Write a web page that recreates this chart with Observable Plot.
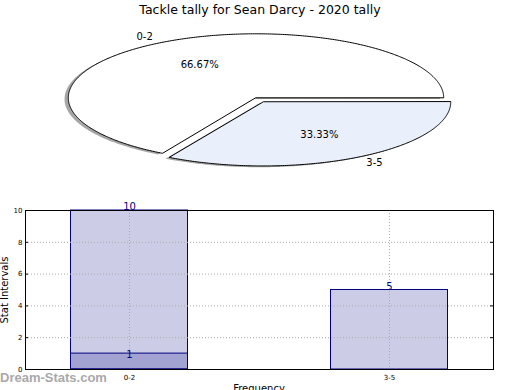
<!DOCTYPE html>
<html>
<head>
<meta charset="utf-8">
<script src="https://cdn.jsdelivr.net/npm/d3@7"></script>
<script src="https://cdn.jsdelivr.net/npm/@observablehq/plot@0.6"></script>
<style>
  html, body { margin: 0; padding: 0; background: #fff; overflow: hidden; }
  #wrap { position: relative; width: 520px; height: 390px; font-family: "DejaVu Sans", sans-serif; }
  #wrap > * { position: absolute; }
  .title { left: 0; width: 520px; top: 2px; text-align: center; font-size: 12.5px; line-height: 16px; color: #000; }
  .ylab { left: -36px; top: 284px; width: 82px; text-align: center; font-size: 10px; line-height: 12px; transform: rotate(-90deg); }
  .xlab { left: 0; width: 518px; top: 383px; text-align: center; font-size: 10px; line-height: 12px; }
  .wm { left: 0; top: 370px; font-family: "Liberation Sans", sans-serif; font-weight: bold; font-size: 13px; line-height: 16px; color: #a9a9a9; }
</style>
</head>
<body>
<div id="wrap"></div>
<script>
// ---- data ----
const title = "Tackle tally for Sean Darcy - 2020 tally";
const categories = ["0-2", "3-5"];
const tallies = [10, 5];          // main bars / pie values
const overlay = [1, 0];           // second (overlaid) bar series
const sliceColors = ["#ffffff", "#eaf0fb"];
const explode = [0, 0.075];
const yTicks = [0, 2, 4, 6, 8, 10];

const wrap = document.getElementById("wrap");

// ---- pie (ellipse) ----
const total = d3.sum(tallies);
let acc = 0;
const slices = tallies.map((v, i) => {
  const a0 = acc / total * 2 * Math.PI;
  acc += v;
  const a1 = acc / total * 2 * Math.PI;
  const mid = (a0 + a1) / 2;
  const ox = explode[i] * Math.cos(mid), oy = explode[i] * Math.sin(mid);
  const pts = [{x: ox, y: oy}];
  const n = Math.max(2, Math.ceil((a1 - a0) / 0.01));
  for (let k = 0; k <= n; k++) {
    const t = a0 + (a1 - a0) * k / n;
    pts.push({x: ox + Math.cos(t), y: oy + Math.sin(t)});
  }
  return {
    cat: categories[i], v, i, pts, mid, ox, oy,
    pct: (v / total * 100).toFixed(2) + "%"
  };
});

const shadowMarks = slices.map(s =>
  Plot.line(s.pts.map(p => ({x: p.x - 0.02, y: p.y - 0.02})), {
    x: "x", y: "y", curve: "linear-closed", fill: "#4d4d4d", fillOpacity: 0.5, stroke: "none"
  })
);
const sliceMarks = slices.map(s =>
  Plot.line(s.pts, {
    x: "x", y: "y", curve: "linear-closed", fill: sliceColors[s.i], stroke: "#000", strokeWidth: 1
  })
);
const catLabels = slices.map(s => ({
  x: s.ox + 1.1 * Math.cos(s.mid), y: s.oy + 1.1 * Math.sin(s.mid), text: s.cat,
  anchor: Math.cos(s.mid) < 0 ? "end" : "start"
}));
const pctLabels = slices.map(s => ({
  x: s.ox + 0.6 * Math.cos(s.mid), y: s.oy + 0.6 * Math.sin(s.mid), text: s.pct
}));

const pie = Plot.plot({
  width: 520, height: 185,
  x: {domain: [-1, 1], range: [67.8, 443.2], axis: null},
  y: {domain: [-1, 1], range: [161.3, 33.3], axis: null},
  style: {fontFamily: "DejaVu Sans", background: "transparent", overflow: "visible"},
  marks: [
    ...shadowMarks,
    ...sliceMarks,
    Plot.text(catLabels.filter(d => d.anchor === "end"), {x: "x", y: "y", text: "text", textAnchor: "end", fontSize: 10, fill: "#000"}),
    Plot.text(catLabels.filter(d => d.anchor === "start"), {x: "x", y: "y", text: "text", textAnchor: "start", fontSize: 10, fill: "#000"}),
    Plot.text(pctLabels, {x: "x", y: "y", text: "text", fontSize: 10, fill: "#000"})
  ]
});
pie.style.left = "0px"; pie.style.top = "0px";
wrap.appendChild(pie);

const t = document.createElement("div");
t.className = "title"; t.textContent = title;
wrap.appendChild(t);

// ---- bar chart ----
const main = categories.map((c, i) => ({i, cat: c, v: tallies[i]}));
const over = categories.map((c, i) => ({i, cat: c, v: overlay[i]})).filter(d => d.v > 0);
const hw = 0.225;

const bar = Plot.plot({
  width: 520, height: 195,
  marginTop: 15, marginBottom: 21, marginLeft: 25, marginRight: 27,
  x: {domain: [-0.4, 1.4]},
  y: {domain: [0, 10]},
  style: {fontFamily: "DejaVu Sans", background: "transparent", overflow: "visible"},
  marks: [
    Plot.rectY(main, {x1: d => d.i - hw, x2: d => d.i + hw, y: "v", fill: "#000080", fillOpacity: 0.2, stroke: "#000080", strokeWidth: 1}),
    Plot.rectY(over, {x1: d => d.i - hw, x2: d => d.i + hw, y: "v", fill: "#000080", fillOpacity: 0.2, stroke: "#000080", strokeWidth: 1}),
    Plot.gridY(yTicks, {stroke: "#aaa", strokeOpacity: 1, strokeDasharray: "1,2"}),
    Plot.gridX([0, 1], {stroke: "#aaa", strokeOpacity: 1, strokeDasharray: "1,2"}),
    Plot.tickY(yTicks, {y: d => d, stroke: "#000", strokeWidth: 1, insetRight: 465}),
    Plot.tickY(yTicks, {y: d => d, stroke: "#000", strokeWidth: 1, insetLeft: 465}),
    Plot.frame({stroke: "#000", strokeWidth: 1}),
    Plot.axisY(yTicks, {tickSize: 0, tickPadding: 3, fontSize: 7, label: null, fill: "#000"}),
    Plot.axisX([0, 1], {tickFormat: i => categories[i], tickSize: 0, tickPadding: 6, fontSize: 7, label: null, fill: "#000"}),
    Plot.text(main, {x: "i", y: "v", text: d => String(d.v), lineAnchor: "bottom", dy: -0.5, fontSize: 10, fill: "#000080"}),
    Plot.text(over, {x: "i", y: "v", text: d => String(d.v), lineAnchor: "middle", dy: 1, fontSize: 10, fill: "#000080"})
  ]
});
bar.style.left = "0px"; bar.style.top = "195px";
wrap.appendChild(bar);

const yl = document.createElement("div");
yl.className = "ylab"; yl.textContent = "Stat Intervals";
wrap.appendChild(yl);
const xl = document.createElement("div");
xl.className = "xlab"; xl.textContent = "Frequency";
wrap.appendChild(xl);
const wm = document.createElement("div");
wm.className = "wm"; wm.textContent = "Dream-Stats.com";
wrap.appendChild(wm);
</script>
</body>
</html>
